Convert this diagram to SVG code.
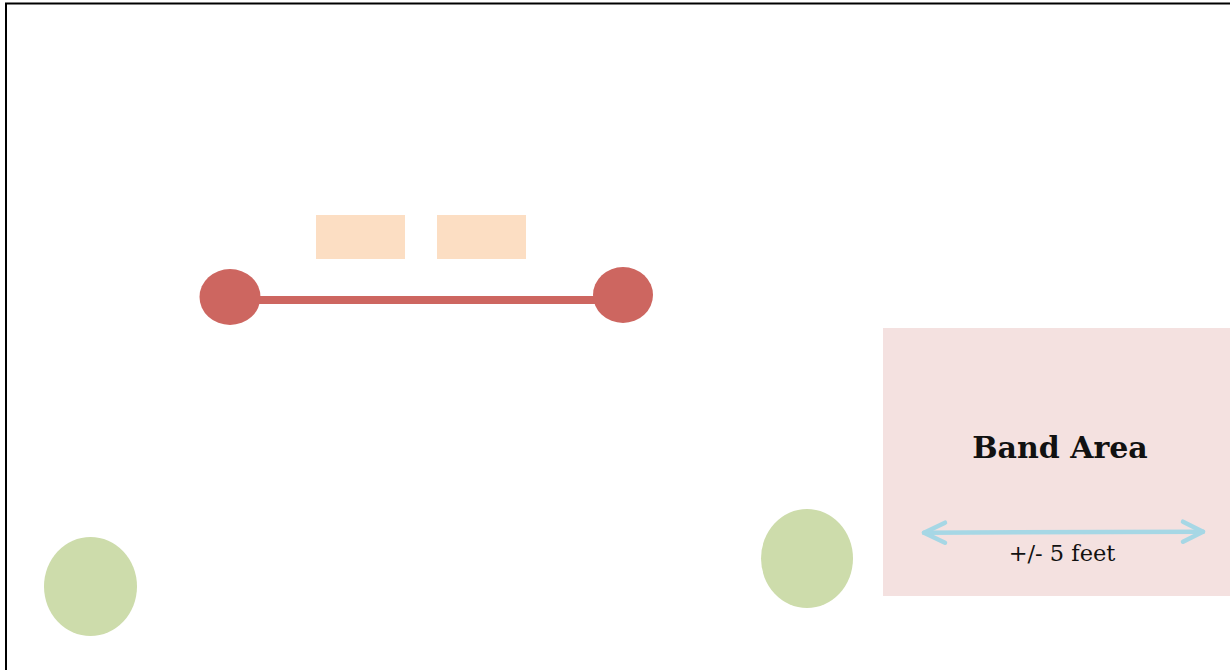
<svg xmlns="http://www.w3.org/2000/svg" width="1230" height="670" viewBox="0 0 1230 670">
  <style>
    .post { fill: #cd6660; }
    .bar { stroke: #cd6660; stroke-width: 8; fill: none; }
    .table { fill: #fcdec3; }
    .tree { fill: #cddcab; }
    .band { fill: #f4e1e0; }
    .dim { stroke: #a6d7e5; stroke-width: 4.5; fill: none; stroke-linecap: round; stroke-linejoin: round; }
    .title { font-family: "DejaVu Serif", "Liberation Serif", serif; font-weight: bold; font-size: 30px; fill: #111; }
    .label { font-family: "DejaVu Serif", "Liberation Serif", serif; font-size: 22.5px; fill: #111; }
  </style>
  <rect x="0" y="0" width="1230" height="670" fill="#ffffff"/>
  <rect id="frame" x="6" y="3.5" width="1300" height="720" fill="none" stroke="#000" stroke-width="2"/>

  <g id="connectors">
    <line class="bar" x1="230" y1="300" x2="623" y2="300"/>
  </g>

  <g id="table1"><rect class="table" x="316" y="215" width="89" height="44"/></g>
  <g id="table2"><rect class="table" x="437" y="215" width="89" height="44"/></g>

  <g id="post-left"><ellipse class="post" cx="230" cy="297" rx="30.5" ry="28"/></g>
  <g id="post-right"><ellipse class="post" cx="623" cy="295" rx="30" ry="28"/></g>

  <g id="tree-left"><ellipse class="tree" cx="90.5" cy="586.5" rx="46.5" ry="49.5"/></g>
  <g id="tree-right"><ellipse class="tree" cx="807" cy="558.5" rx="46" ry="49.5"/></g>

  <g id="band-area">
    <rect class="band" x="883" y="328" width="347" height="268"/>
    <text class="title" x="1060" y="458" text-anchor="middle">Band Area</text>
    <line class="dim" x1="924" y1="532.7" x2="1203" y2="531.7"/>
    <polyline class="dim" points="945,522.7 924,532.7 945,542.7"/>
    <polyline class="dim" points="1183,521.7 1203,531.7 1183,541.7"/>
    <text class="label" x="1062" y="561" text-anchor="middle">+/- 5 feet</text>
  </g>
</svg>
